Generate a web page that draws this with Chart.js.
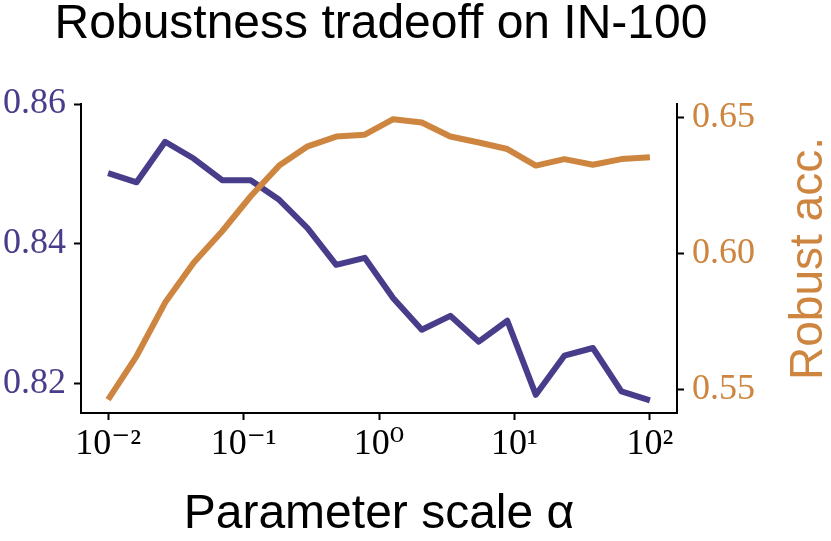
<!DOCTYPE html>
<html>
<head>
<meta charset="utf-8">
<script src="https://cdn.jsdelivr.net/npm/chart.js@4"></script>
<style>
  body { margin: 0; background: #fff; }
  canvas { display: block; }
</style>
</head>
<body>
<canvas id="chart1" width="831" height="541"></canvas>
<script>
//==================== data ====================
// alpha values (logspace -2..2, 20 points)
const alphas = [0.01, 0.016238, 0.026367, 0.042813, 0.069519, 0.11288, 0.18330, 0.29764, 0.48329, 0.78476,
	1.2743, 2.0691, 3.3598, 5.4556, 8.8587, 14.384, 23.357, 37.927, 61.585, 100];
// left axis (purple)
const cleanAcc = [0.8501, 0.8488, 0.8546, 0.8522, 0.8491, 0.8491, 0.8463, 0.8422, 0.8370, 0.8380,
	0.8322, 0.8277, 0.8297, 0.8260, 0.8290, 0.8184, 0.8240, 0.8251, 0.8189, 0.8176];
// right axis (orange)
const robustAcc = [0.5461, 0.5622, 0.5819, 0.5966, 0.6082, 0.6211, 0.6324, 0.6395, 0.6431, 0.6438,
	0.6495, 0.6483, 0.6431, 0.6409, 0.6385, 0.6324, 0.6348, 0.6327, 0.6348, 0.6355];

const xTicks = [0.01, 0.1, 1, 10, 100];
const xTickLabels = ['10\u207B\u00B2', '10\u207B\u00B9', '10\u2070', '10\u00B9', '10\u00B2'];
const yTicks = [0.82, 0.84, 0.86];
const y1Ticks = [0.55, 0.60, 0.65];
//==============================================

const purple = '#483D8B';
const orange = '#CD853F';
const sans = "'Liberation Sans', sans-serif";
const serif = "'Liberation Serif', 'DejaVu Serif', serif";

const purplePts = alphas.map((a, i) => ({ x: a, y: cleanAcc[i] }));
const orangePts = alphas.map((a, i) => ({ x: a, y: robustAcc[i] }));

// chart title (centred over the plot area) and right axis title (bottom to top)
const extraText = {
	id: 'extraText',
	afterDraw(chart) {
		const ctx = chart.ctx;
		const a = chart.chartArea;
		ctx.save();
		ctx.font = '48px ' + sans;
		ctx.fillStyle = '#000';
		ctx.textAlign = 'center';
		ctx.textBaseline = 'alphabetic';
		ctx.fillText('Robustness tradeoff on IN-100', (a.left + a.right) / 2 + 2, 38);
		ctx.translate(822, (a.top + a.bottom) / 2);
		ctx.rotate(-Math.PI / 2);
		ctx.font = '46px ' + sans;
		ctx.fillStyle = orange;
		ctx.fillText('Robust acc.', 0, 0);
		ctx.restore();
	}
};

const grid = { drawOnChartArea: false, drawTicks: true, tickLength: 7, tickWidth: 2, tickColor: '#000' };
const border = { display: true, color: '#000', width: 2 };

const ctx = document.getElementById('chart1').getContext('2d');
const myChart = new Chart(ctx, {
	type: 'line',
	data: {
		datasets: [
			{
				label: 'Robust acc.',
				data: orangePts,
				yAxisID: 'y1',
				borderColor: orange,
				borderWidth: 6,
				order: 0,
			},
			{
				label: 'Clean acc.',
				data: purplePts,
				yAxisID: 'y',
				borderColor: purple,
				borderWidth: 6,
				order: 1,
			}
		]
	},
	options: {
		responsive: false,
		animation: false,
		radius: 0,
		elements: { line: { tension: 0, borderJoinStyle: 'round', borderCapStyle: 'butt' } },
		layout: { padding: { top: 104, left: 0, right: 0, bottom: 0 } },
		plugins: {
			legend: { display: false },
			tooltip: { enabled: false },
			title: { display: false }
		},
		scales: {
			x: {
				type: 'logarithmic',
				min: Math.pow(10, -2.2),
				max: Math.pow(10, 2.2),
				afterBuildTicks: s => { s.ticks = xTicks.map(v => ({ value: v })); },
				afterFit: s => { s.height = 128; },
				grid: grid,
				border: border,
				ticks: {
					autoSkip: false,
					maxRotation: 0,
					padding: 3,
					color: '#000',
					font: { family: serif, size: 36 },
					callback: (v, i) => xTickLabels[i]
				},
				title: {
					display: true,
					text: 'Parameter scale \u03B1',
					color: '#000',
					font: { family: sans, size: 48, lineHeight: 1 },
					padding: { top: 0, bottom: 2 }
				}
			},
			y: {
				position: 'left',
				min: 0.8158,
				max: 0.86,
				afterBuildTicks: s => { s.ticks = yTicks.map(v => ({ value: v })); },
				afterFit: s => { s.width = 81; },
				grid: grid,
				border: border,
				ticks: {
					padding: 8,
					color: purple,
					font: { family: serif, size: 36 },
					callback: v => v.toFixed(2)
				}
			},
			y1: {
				position: 'right',
				min: 0.5412,
				max: 0.6551,
				afterBuildTicks: s => { s.ticks = y1Ticks.map(v => ({ value: v })); },
				afterFit: s => { s.width = 154; },
				grid: grid,
				border: border,
				ticks: {
					padding: 8,
					color: orange,
					font: { family: serif, size: 36 },
					callback: v => v.toFixed(2)
				}
			}
		}
	},
	plugins: [extraText]
});
</script>
</body>
</html>
